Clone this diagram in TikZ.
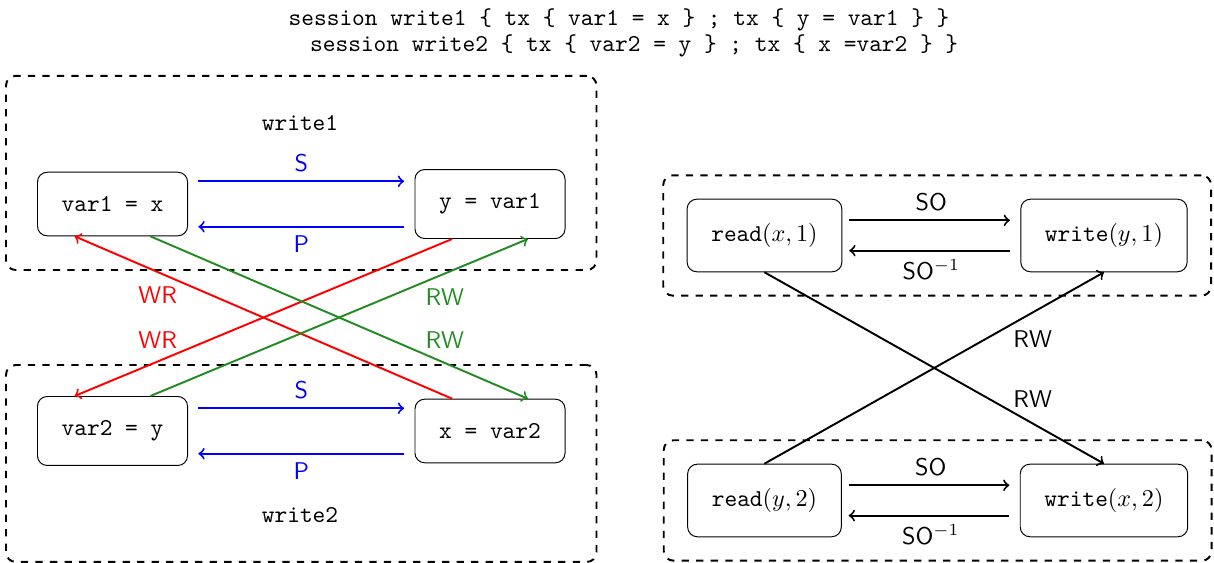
\documentclass[tikz,border=0pt]{standalone}
\usepackage{tikz}
\usetikzlibrary{arrows, fit, positioning}
\definecolor{my_green}{RGB}{34, 139, 34}
\tikzset {
  stmt/.style = {draw, rectangle, rounded corners, inner sep=10pt, fill=white, font=\ttfamily},
  group/.style = {draw, thick, dashed, rounded corners, rectangle},
  line/.style = {->, thick, shorten <=0.15cm, shorten >=0.15cm},
  dep/.style = {->, thick},
  lbl/.style = {font=\sffamily},
  plain/.style = {font=\ttfamily}
}

\begin{document}
\begin{tikzpicture}
    \useasboundingbox (0,0) rectangle (17.63,8.176);

    \node[plain] (title1) at (8.99,7.886) {session write1 \{ tx \{ var1 = x \} ; tx \{ y = var1 \} \}};
    \node[plain] (title2) at (9.21,7.508) {session write2 \{ tx \{ var2 = y \} ; tx \{ x =var2 \} \}};

    % the two sessions
    \node[plain] (w1) at (4.357,6.390) {write1};
    \node[stmt] (var1x) at (1.634,5.213) {var1 = x};
    \node[stmt] (yvar1) at (7.116,5.213) {y = var1};
    \node[plain] (w2) at (4.357,0.700) {write2};
    \node[stmt] (var2y) at (1.634,1.917) {var2 = y};
    \node[stmt] (xvar2) at (7.116,1.917) {x = var2};

    \node[group, inner sep=0.45cm, fit=(w1)(var1x)(yvar1)] (session1) {};
    \node[group, inner sep=0.45cm, fit=(w2)(var2y)(xvar2)] (session2) {};

    \draw[line, blue] ([yshift=0.33cm]var1x.east) -- ([yshift=0.33cm]yvar1.west) node[midway, above, lbl] {S};
    \draw[line, blue] ([yshift=-0.33cm]yvar1.west) -- ([yshift=-0.33cm]var1x.east) node[midway, below, lbl] {P};
    \draw[line, blue] ([yshift=0.33cm]var2y.east) -- ([yshift=0.33cm]xvar2.west) node[midway, above, lbl] {S};
    \draw[line, blue] ([yshift=-0.33cm]xvar2.west) -- ([yshift=-0.33cm]var2y.east) node[midway, below, lbl] {P};

    \draw[dep, red] ([xshift=-0.55cm]xvar2.north) -- ([xshift=-0.55cm]var1x.south) node[pos=0.78, yshift=-0.34cm, lbl] {WR};
    \draw[dep, red] ([xshift=-0.55cm]yvar1.south) -- ([xshift=-0.55cm]var2y.north) node[pos=0.78, yshift=0.31cm, lbl] {WR};
    \draw[dep, my_green] ([xshift=0.55cm]var2y.north) -- ([xshift=0.55cm]yvar1.south) node[pos=0.78, yshift=-0.34cm, lbl] {RW};
    \draw[dep, my_green] ([xshift=0.55cm]var1x.south) -- ([xshift=0.55cm]xvar2.north) node[pos=0.78, yshift=0.33cm, lbl] {RW};

    % operations
    \node[stmt] (readx1) at (11.102,4.756) {read$(x,1)$};
    \node[stmt] (writey1) at (16.032,4.756) {write$(y,1)$};
    \node[stmt] (ready2) at (11.102,0.908) {read$(y,2)$};
    \node[stmt] (writex2) at (16.032,0.908) {write$(x,2)$};

    \node[group, inner sep=0.34cm, fit=(readx1)(writey1)] (ops1) {};
    \node[group, inner sep=0.34cm, fit=(ready2)(writex2)] (ops2) {};

    \draw[line, shorten <=0.1cm] ([yshift=0.22cm]readx1.east) -- ([yshift=0.22cm]writey1.west) node[midway, above, lbl] {SO};
    \draw[line, shorten >=0.1cm] ([yshift=-0.22cm]writey1.west) -- ([yshift=-0.22cm]readx1.east) node[midway, below, lbl] {SO$^{-1}$};
    \draw[line, shorten <=0.1cm] ([yshift=0.22cm]ready2.east) -- ([yshift=0.22cm]writex2.west) node[midway, above, lbl] {SO};
    \draw[line, shorten >=0.1cm] ([yshift=-0.22cm]writex2.west) -- ([yshift=-0.22cm]ready2.east) node[midway, below, lbl] {SO$^{-1}$};

    \draw[dep] (readx1.south) -- (writex2.north) node[pos=0.79, yshift=0.35cm, lbl] {RW};
    \draw[dep] (ready2.north) -- (writey1.south) node[pos=0.79, yshift=-0.38cm, lbl] {RW};

\end{tikzpicture}
\end{document}
